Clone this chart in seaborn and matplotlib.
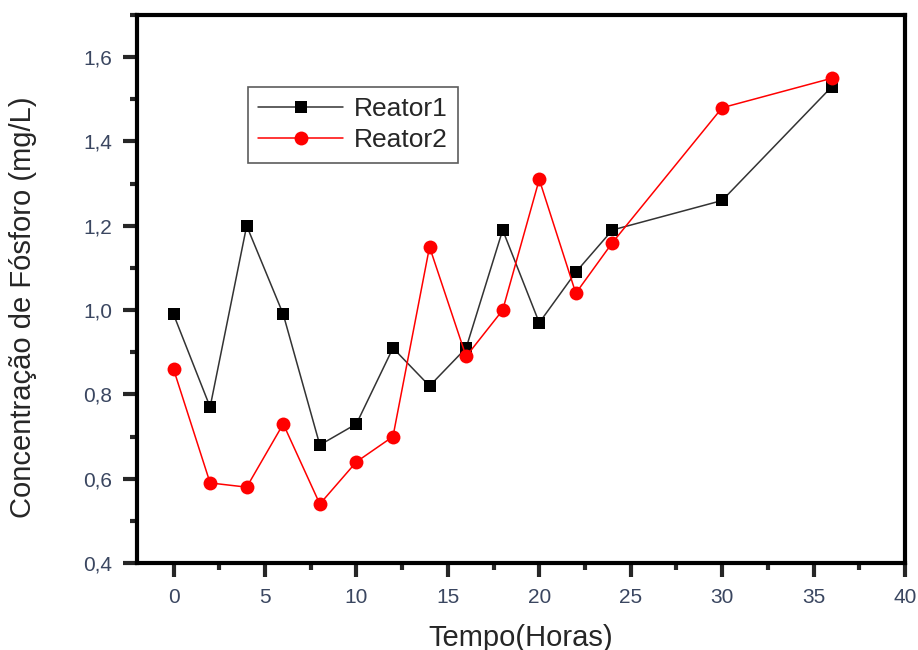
import matplotlib
matplotlib.use("Agg")
import matplotlib.pyplot as plt
import seaborn as sns
import pandas as pd
from matplotlib.ticker import MultipleLocator, FuncFormatter

tempo = [0, 2, 4, 6, 8, 10, 12, 14, 16, 18, 20, 22, 24, 30, 36]
reator1 = [0.99, 0.77, 1.20, 0.99, 0.68, 0.73, 0.91, 0.82, 0.91, 1.19, 0.97, 1.09, 1.19, 1.26, 1.53]
reator2 = [0.86, 0.59, 0.58, 0.73, 0.54, 0.64, 0.70, 1.15, 0.89, 1.00, 1.31, 1.04, 1.16, 1.48, 1.55]
series_names = ["Reator1", "Reator2"]

sns.set_style("white")
plt.rcParams['font.family'] = ['Liberation Sans', 'DejaVu Sans']

df = pd.concat([
    pd.DataFrame({"Tempo": tempo, "Conc": reator1, "Serie": series_names[0]}),
    pd.DataFrame({"Tempo": tempo, "Conc": reator2, "Serie": series_names[1]}),
])

fig = plt.figure(figsize=(9.18, 6.5), dpi=100)
ax = fig.add_axes([0.1492, 0.1338, 0.8366, 0.8431])

palette = {"Reator1": "#000000", "Reator2": "#ff0000"}
markers = {"Reator1": "s", "Reator2": "o"}
for name in series_names:
    sub = df[df.Serie == name]
    sns.lineplot(data=sub, x="Tempo", y="Conc", ax=ax, color=palette[name],
                 marker=markers[name], markersize=9 if name == "Reator1" else 10,
                 markeredgewidth=0, linewidth=1.1, label=name, sort=False,
                 alpha=1.0)
ax.lines[0].set_color("#333333")
ax.lines[0].set_markerfacecolor("#000000")

ax.set_xlim(-2, 40)
ax.set_ylim(0.4, 1.7)
ax.xaxis.set_major_locator(MultipleLocator(5))
ax.xaxis.set_minor_locator(MultipleLocator(2.5))
ax.yaxis.set_major_locator(MultipleLocator(0.2))
ax.yaxis.set_minor_locator(MultipleLocator(0.1))
ax.yaxis.set_major_formatter(FuncFormatter(lambda v, p: f"{v:.1f}".replace(".", ",")))
ax.xaxis.set_major_formatter(FuncFormatter(lambda v, p: f"{v:.0f}"))

for s in ax.spines.values():
    s.set_linewidth(3)
    s.set_color("black")
ax.tick_params(axis="both", which="major", direction="out", length=10, width=3,
               labelsize=15, labelcolor="#3a4660", pad=8,
               bottom=True, left=True, top=False, right=False)
ax.tick_params(axis="both", which="minor", direction="out", length=5, width=3,
               bottom=True, left=True, top=False, right=False)

ax.set_xlabel("Tempo(Horas)", fontsize=21, labelpad=12)
ax.set_ylabel("Concentração de Fósforo (mg/L)", fontsize=21)
ax.yaxis.set_label_coords(-0.13, 0.467)

leg = ax.legend(loc="upper left", bbox_to_anchor=(0.1445, 0.869), fontsize=19,
                frameon=True, fancybox=False, edgecolor="#333333",
                handlelength=3.2, borderpad=0.4, labelspacing=0.25,
                handletextpad=0.4, borderaxespad=0)
leg.get_frame().set_linewidth(1.2)

fig.savefig("out.png", dpi=100)
